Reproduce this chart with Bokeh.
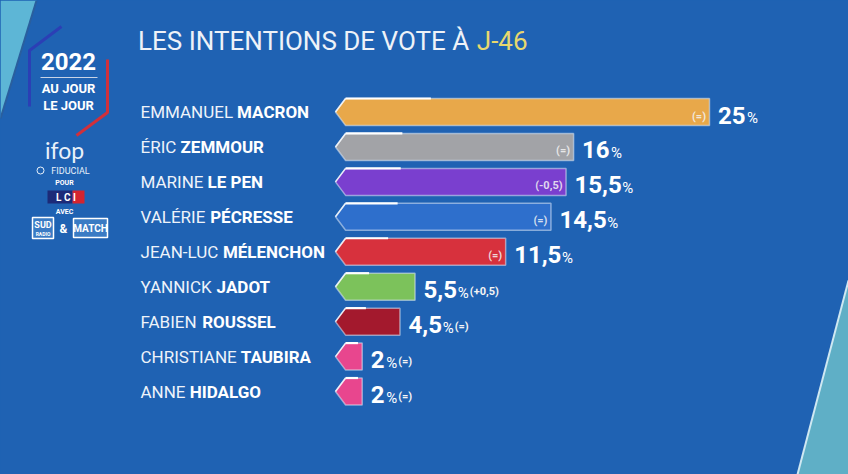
from bokeh.plotting import figure
from bokeh.models import Range1d, Label, GlobalInlineStyleSheet
from bokeh.core.properties import value
from bokeh.embed import file_html
from bokeh.resources import INLINE

# ---------------- data ----------------
first_names = ["EMMANUEL", "ÉRIC", "MARINE", "VALÉRIE", "JEAN-LUC",
               "YANNICK", "FABIEN", "CHRISTIANE", "ANNE"]
last_names = ["MACRON", "ZEMMOUR", "LE PEN", "PÉCRESSE", "MÉLENCHON",
              "JADOT", "ROUSSEL", "TAUBIRA", "HIDALGO"]
scores = [25, 16, 15.5, 14.5, 11.5, 5.5, 4.5, 2, 2]
changes = ["(=)", "(=)", "(-0,5)", "(=)", "(=)", "(+0,5)", "(=)", "(=)", "(=)"]
bar_colors = ["#E8A84A", "#A2A3A7", "#7A3FCF", "#2E6FCC", "#D7313D",
              "#7CC25B", "#A3192D", "#E8468E", "#E8468E"]
title_main = "LES INTENTIONS DE VOTE À "
title_accent = "J-46"

# ---------------- geometry / style ----------------
W, H = 848, 474
X0 = 331.5      # page px of 0 %
S = 15.1        # px per %
ROW0 = 111.5    # page px of first row centre
ROW_H = 34.94   # px per row
BG = "#1F62B3"
FONT = "Roboto"

def dx(px):
    return (px - X0) / S

def dy(py):
    return (py - ROW0) / ROW_H

W_EM = {'A': .652, 'B': .623, 'C': .651, 'D': .656, 'E': .568, 'F': .553, 'G': .681,
        'H': .713, 'I': .272, 'J': .552, 'K': .627, 'L': .538, 'M': .873, 'N': .713,
        'O': .688, 'P': .631, 'Q': .688, 'R': .616, 'S': .594, 'T': .597, 'U': .648,
        'V': .636, 'W': .887, 'X': .627, 'Y': .601, 'Z': .599, ' ': .248, '-': .276,
        'É': .568, 'À': .652, ',': .22, '%': .733, '(': .34, ')': .35, '=': .55,
        '+': .57}

def text_w(s, size):
    return sum(W_EM.get(c, .562) for c in s) * size

p = figure(width=W, height=H, x_range=Range1d(dx(0), dx(W)),
           y_range=Range1d(dy(H), dy(0)),
           output_backend="svg", toolbar_location=None, min_border=0,
           x_axis_location=None, y_axis_location=None,
           background_fill_color=BG, border_fill_color=BG, outline_line_color=None)
p.grid.visible = False
p.stylesheets = [GlobalInlineStyleSheet(css="body { background-color: %s; }" % BG)]

# ---------------- background decoration ----------------
p.patch([dx(0), dx(36), dx(0)], [dy(0), dy(0), dy(118)], fill_color="#5DB6D6",
        line_color=None)
p.line([dx(36), dx(0)], [dy(0), dy(118)], line_color="#2A5F9E", line_width=2)
p.patch([dx(848), dx(848), dx(797)], [dy(280), dy(474), dy(474)], fill_color="#5FAFC6",
        line_color=None)
p.line([dx(848), dx(797)], [dy(280), dy(474)], line_color="#CFE8F2", line_width=2)

# ---------------- logo ----------------
p.line([dx(61), dx(29), dx(29)], [dy(26), dy(50), dy(106)], line_color="#2B3FB5",
       line_width=3)
p.line([dx(107), dx(107), dx(76)], [dy(59), dy(112), dy(135)], line_color="#D0303B",
       line_width=3)
p.line([dx(40), dx(97)], [dy(77), dy(77)], line_color="#C8D3E6", line_width=1)

def lab(x, y, t, size, bold=False, color="white", font=FONT, align="center"):
    p.add_layout(Label(x=dx(x), y=dy(y), text=t, text_align=align,
                       text_baseline="middle", text_color=color, text_font=font,
                       text_font_size="%dpx" % size,
                       text_font_style="bold" if bold else "normal"))

lab(68, 61, "2022", 24, True)
lab(68, 88, "AU JOUR", 13, True)
lab(68, 105, "LE JOUR", 13, True)
lab(64, 149, "ifop", 23, False, "#E9F1FA", "Lato")
lab(70, 170, "FIDUCIAL", 9, False, "#E9F1FA")
p.scatter([dx(40)], [dy(170)], size=7, fill_color=None, line_color="#E9F1FA")
lab(64, 182, "POUR", 7, True)
p.quad(left=dx(47), right=dx(72), top=dy(190), bottom=dy(203), fill_color="#1C2A78",
       line_color=None)
p.quad(left=dx(72), right=dx(84), top=dy(190), bottom=dy(203), fill_color="#D4242F",
       line_color=None)
lab(65.5, 196.5, "L C I", 10, True)
lab(64, 211, "AVEC", 7, True)
p.quad(left=dx(32), right=dx(53), top=dy(217), bottom=dy(238), fill_color="#3A7BC4",
       line_color="white", line_width=1.5)
lab(42.5, 224, "SUD", 9, True)
lab(42.5, 233, "RADIO", 5, True)
lab(63, 228, "&", 12, True)
p.quad(left=dx(73), right=dx(107), top=dy(218), bottom=dy(237), fill_color="#3A7BC4",
       line_color="white", line_width=1.5)
lab(90, 228, "MATCH", 10, True)

# ---------------- title ----------------
title_x, title_y = 137.5, 40
p.text(x=[dx(title_x)], y=[dy(title_y)], text=[title_main], text_font=value(FONT),
       text_font_size="26px", text_color="#EEF2F8", text_baseline="middle")
p.text(x=[dx(title_x + text_w(title_main, 26))], y=[dy(title_y)], text=[title_accent],
       text_font=value(FONT), text_font_size="26px", text_color="#E8D86E",
       text_baseline="middle")

# ---------------- bars ----------------
rows = list(range(len(scores)))
TIP, CORNER = 0.23, 0.9
HALF = 13.5 / ROW_H
xs = [[TIP, CORNER, v, v, CORNER] for v in scores]
ys = [[i, i - HALF, i - HALF, i + HALF, i + HALF] for i in rows]
p.patches(xs, ys, fill_color=bar_colors, line_color="#DCE8F6", line_alpha=0.55,
          line_width=1.5)
hl_end = [min(v, 1.3 + 0.21 * v) for v in scores]
p.segment(x0=[CORNER] * len(rows), y0=[i - HALF for i in rows], x1=hl_end,
          y1=[i - HALF for i in rows], line_color="white", line_width=2.2)
p.segment(x0=[TIP] * len(rows), y0=rows, x1=[CORNER] * len(rows),
          y1=[i - HALF for i in rows], line_color="white", line_width=1.5, line_alpha=0.8)

# ---------------- names ----------------
NAME_X, NAME_SIZE = 140, 17
p.text(x=[dx(NAME_X)] * len(rows), y=rows, text=first_names, text_font=value(FONT),
       text_font_size="%dpx" % NAME_SIZE, text_color="#EEF3FA",
       text_baseline="middle")
p.text(x=[dx(NAME_X + text_w(f + " ", NAME_SIZE)) for f in first_names], y=rows,
       text=last_names, text_font=value(FONT), text_font_style="bold",
       text_font_size="%dpx" % NAME_SIZE, text_color="white",
       text_baseline="middle")

# ---------------- values ----------------
NUM_SIZE, PCT_SIZE, CHG_SIZE = 24, 15, 11
num_txt = [("%g" % v).replace(".", ",") for v in scores]
num_x = [v + 8.5 / S for v in scores]
pct_x = [nx + (text_w(t, NUM_SIZE) + 2) / S for nx, t in zip(num_x, num_txt)]
p.text(x=num_x, y=rows, text=num_txt, text_font=value(FONT), text_font_style="bold",
       text_font_size="%dpx" % NUM_SIZE, text_color="white",
       text_baseline="middle", y_offset=3)
p.text(x=pct_x, y=rows, text=["%"] * len(rows), text_font=value(FONT),
       text_font_size="%dpx" % PCT_SIZE, text_color="white",
       text_baseline="middle", y_offset=6)

inside = [i for i in rows if scores[i] >= 10]
outside = [i for i in rows if scores[i] < 10]
p.text(x=[scores[i] - 3.5 / S for i in inside], y=inside,
       text=[changes[i] for i in inside], text_font=value(FONT), text_font_style="bold",
       text_font_size="%dpx" % CHG_SIZE, text_color="#F4F4F4", text_alpha=0.85,
       text_align="right", text_baseline="middle", y_offset=4)
p.text(x=[pct_x[i] + (text_w("%", PCT_SIZE) + 1) / S for i in outside], y=outside,
       text=[changes[i] for i in outside], text_font=value(FONT), text_font_style="bold",
       text_font_size="%dpx" % CHG_SIZE, text_color="#F4F4F4",
       text_baseline="middle", y_offset=5)

open("out.html", "w").write(file_html(p, INLINE))
